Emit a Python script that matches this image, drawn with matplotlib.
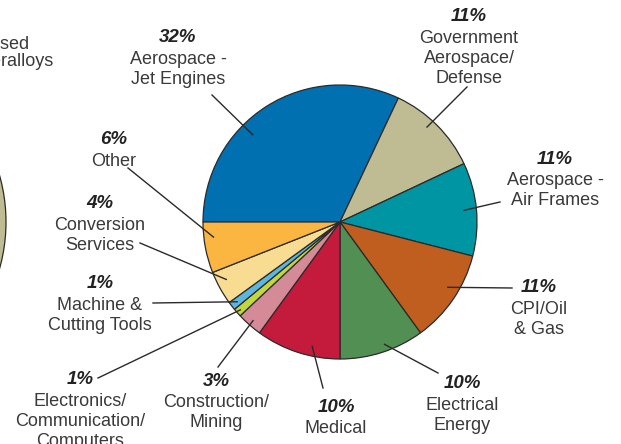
import matplotlib
matplotlib.use("Agg")
import matplotlib.pyplot as plt
import numpy as np
from matplotlib.patches import Circle

# ---- data (clockwise from 9 o'clock) ----
categories = ["Aerospace -\nJet Engines", "Government\nAerospace/\nDefense",
              "Aerospace -\nAir Frames", "CPI/Oil\n& Gas", "Electrical\nEnergy",
              "Medical", "Construction/\nMining", "Electronics/\nCommunication/\nComputers",
              "Machine &\nCutting Tools", "Conversion\nServices", "Other"]
values = [32, 11, 11, 11, 10, 10, 3, 1, 1, 4, 6]
pct_labels = ["32%", "11%", "11%", "11%", "10%", "10%", "3%", "1%", "1%", "4%", "6%"]
colors = ["#0070B0", "#BFBC94", "#0095A3", "#C05E20", "#519052", "#C41A3C",
          "#D48A97", "#C2D83A", "#5EB5E0", "#F8DC92", "#FBB642"]

# ---- layout (pixel coords, y down) ----
W, H = 621, 444
center_px = (340, 222)
radius_px = 137
label_pos = [(178, 38), (469, 17), (555, 159), (539, 288), (462, 384),
             (336, 407), (216, 381), (80, 380), (100, 284), (100, 204), (114, 140)]
leader_out = [(212, 95), (467, 87), (500, 202), (512, 288), (438, 373),
              (323, 388), (218, 367), (98, 378), (153, 303), (140, 243), (128, 168)]
anchor_off = [12.6, 2.5, 0, 3, 2, 5.4, 0, 0, 0, -2, -4]
anchor_r = [0.90, 0.94, 0.91, 0.92, 0.95, 0.93, 0.96, 0.97, 0.95, 0.93, 0.93]

def P(px, py):
    return px, H - py

fig = plt.figure(figsize=(W / 100, H / 100), dpi=100)
ax = fig.add_axes([0, 0, 1, 1])

cx, cy = P(*center_px)
wedges, _ = ax.pie(values, colors=colors, startangle=180, counterclock=False,
                   center=(cx, cy), radius=radius_px,
                   wedgeprops=dict(edgecolor="#2a2a2a", linewidth=0.9))

# partial neighbour pie at left edge
ax.add_patch(Circle(P(-166, 222), 172, facecolor="#BFBC94", edgecolor="#2a2a2a", lw=0.9))
ax.text(*P(4, 45), "Based", ha="center", va="center", fontsize=13,
        family="Liberation Sans", color="#3a3a3a")
ax.text(*P(6, 62), "Superalloys", ha="center", va="center", fontsize=13,
        family="Liberation Sans", color="#3a3a3a")

txt_color = "#3a3a3a"
for i, w in enumerate(wedges):
    mid = 0.5 * (w.theta1 + w.theta2) + anchor_off[i]
    r = anchor_r[i] * radius_px
    ax_, ay_ = cx + r * np.cos(np.radians(mid)), cy + r * np.sin(np.radians(mid))
    ox, oy = P(*leader_out[i])
    ax.plot([ox, ax_], [oy, ay_], color="#2a2a2a", lw=1.0)
    lx, ly = label_pos[i]
    ax.text(*P(lx, ly), pct_labels[i], ha="center", va="center", fontsize=13.5,
            family="Liberation Sans", weight="bold", style="italic", color="#222222")
    ax.text(*P(lx, ly + 13), categories[i], ha="center", va="top", fontsize=13,
            family="Liberation Sans", color=txt_color, linespacing=1.22)

ax.set_xlim(0, W)
ax.set_ylim(0, H)
ax.set_aspect("equal")
ax.axis("off")
fig.savefig("out.png", dpi=100)
